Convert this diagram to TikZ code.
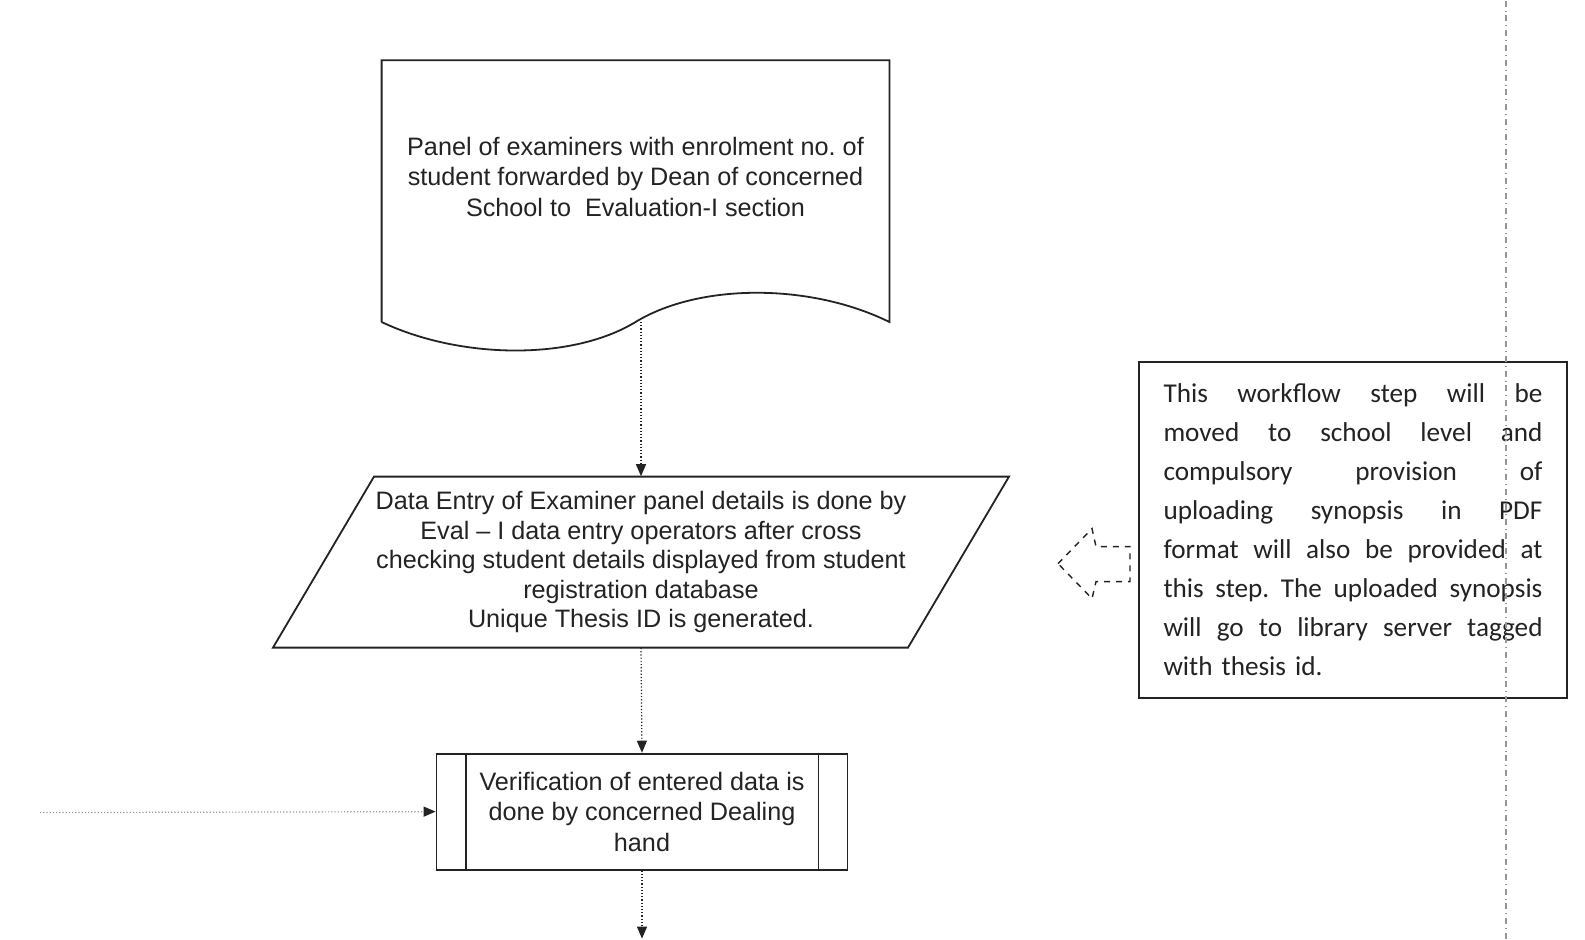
\documentclass[tikz,border=0pt]{standalone}
\usepackage{fontspec}
\setmainfont{Liberation Sans}
\newfontfamily\notefont{Carlito}
\usetikzlibrary{arrows.meta, positioning, shapes.geometric, calc}
\definecolor{inkgray}{RGB}{35, 35, 35}
\definecolor{fadegray}{RGB}{150, 150, 150}
\newcommand{\jline}[1]{\leavevmode\hbox to 189.5pt{#1}}
\frenchspacing

\begin{document}
\begin{tikzpicture}[x=0.5pt, y=-0.5pt,
  flowtext/.style={align=center, font=\fontsize{12.6}{15.2}\selectfont, text=inkgray},
  docbox/.style={minimum width=253.5pt, minimum height=130.5pt, inner sep=0pt},
  docline/.style={draw=inkgray, line width=0.9pt},
  iobox/.style={minimum width=267pt, minimum height=85.5pt, inner sep=0pt, flowtext,
                font=\fontsize{12.6}{14.8}\selectfont},
  procbox/.style={draw=inkgray, line width=0.9pt, minimum width=205.5pt,
                  minimum height=58pt, flowtext},
  remarkbox/.style={draw=inkgray, line width=0.9pt, minimum width=214pt, minimum height=168pt,
                    text width=189.5pt, align=left, text=inkgray,
                    font=\notefont\fontsize{13.6}{19.5}\selectfont},
  arr/.style={-{Triangle[length=6pt, width=5pt, color=inkgray]}, densely dotted,
              line width=0.6pt, draw=inkgray},
  hintarrow/.style={draw=inkgray, dashed, line width=0.7pt},
  guide/.style={draw=fadegray, dash dot, line width=0.6pt}
]
  \fill[white] (0,0) rectangle (1585,938);

  % document shape
  \node[docbox] (panel) at (635.5,190.5) {};
  \draw[docline] (panel.south west) -- (panel.north west) -- (panel.north east) -- (panel.south east)
    .. controls +(-79,-39) and +(64,-39) .. (panel.south)
    .. controls +(-64,39) and +(78,37) .. (panel.south west);
  \node[flowtext] (paneltext) at (635.5,176)
    {Panel of examiners with enrolment no. of\\student forwarded by Dean of concerned\\School to~ Evaluation-I section};

  % data entry (parallelogram)
  \node[iobox] (entry) at (641,561.5)
    {Data Entry of Examiner panel details is done by\\Eval -- I data entry operators after cross\\checking student details displayed from student\\registration database\\Unique Thesis ID is generated.};
  \draw[docline] ($(entry)+(-267,-85.5)$) -- ($(entry)+(368,-85.5)$)
    -- ($(entry)+(267,85.5)$) -- ($(entry)+(-368,85.5)$) -- cycle;

  \node[procbox] (verify) at (642,811)
    {Verification of entered data is\\done by concerned Dealing\\hand};
  \draw[docline] ([xshift=15pt]verify.north west) -- ([xshift=15pt]verify.south west);
  \draw[docline] ([xshift=-15pt]verify.north east) -- ([xshift=-15pt]verify.south east);

  \node[remarkbox] (remark) at (1353,529)
    {\jline{This\hfill workflow\hfill step\hfill will\hfill be}\\
     \jline{moved\hfill to\hfill school\hfill level\hfill and}\\
     \jline{compulsory\hfill provision\hfill of}\\
     \jline{uploading\hfill synopsis\hfill in\hfill PDF}\\
     \jline{format\hfill will\hfill also\hfill be\hfill provided\hfill at}\\
     \jline{this\hfill step.\hfill The\hfill uploaded\hfill synopsis}\\
     \jline{will\hfill go\hfill to\hfill library\hfill server\hfill tagged}\\
     with thesis id.};

  % dashed block arrow towards the entry step
  \draw[hintarrow] (1058,563) -- (1092,528) -- (1096,546) -- (1130,546) -- (1130,581)
    -- (1096,581) -- (1092,598) -- cycle;

  \draw[guide] (1506,0) -- (1506,938);

  \coordinate (feed) at (40,812);
  \coordinate (next) at (642,938);

  \draw[arr] (panel.south -| entry) -- (entry.north);
  \draw[arr] (entry.south) -- (verify.north);
  \draw[arr] (verify.south) -- (next);
  \draw[arr, draw=fadegray] (feed) -- (verify.west);
\end{tikzpicture}
\end{document}
